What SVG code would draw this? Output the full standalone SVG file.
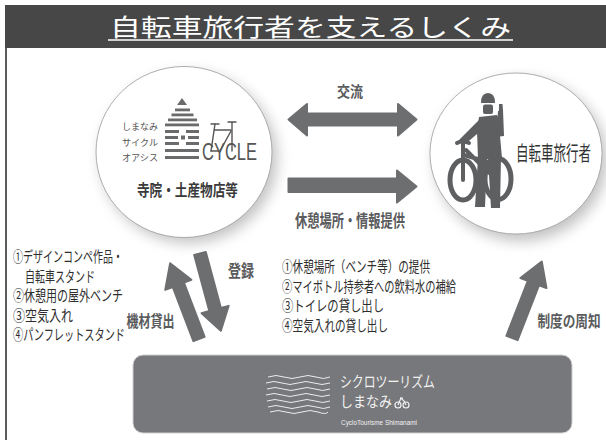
<svg xmlns="http://www.w3.org/2000/svg" width="606" height="440" viewBox="0 0 606 440">
  <style>
    .jp { font-family: "Noto Sans CJK JP", "Noto Sans", sans-serif; }
    .lbl { fill: #5a5b5d; font-weight: bold; }
    .lst { fill: #2e2e2e; font-size: 15px; }
    .arrow { fill: #6d6e70; stroke: #6d6e70; stroke-width: 2; stroke-linejoin: round; }
    .disc { fill: #ffffff; stroke: #9a9a9a; stroke-width: 0.8; }
    .shade { fill: #8f8f8f; opacity: 0.55; filter: url(#soft); }
    .sil { fill: #5e5f61; }
    .wave { fill: none; stroke: #ececec; stroke-width: 1; }
  </style>
  <defs>
    <filter id="soft" x="-30%" y="-30%" width="160%" height="160%">
      <feGaussianBlur stdDeviation="7"/>
    </filter>
  </defs>

  <!-- frame and title bar -->
  <rect x="0" y="0" width="606" height="440" fill="#ffffff"/>
  <line x1="6" y1="47" x2="6" y2="440" stroke="#262626" stroke-width="1.5"/>
  <rect x="5" y="5" width="601" height="43" fill="#474747"/>
  <text class="jp" x="310.5" y="35.5" font-size="24" fill="#ffffff" text-anchor="middle" textLength="401" lengthAdjust="spacingAndGlyphs">自転車旅行者を支えるしくみ</text>
  <line x1="108" y1="40" x2="513" y2="40" stroke="#ffffff" stroke-width="1.5"/>

  <!-- node: temples / shops (cycle oasis) -->
  <g id="oasis">
    <ellipse class="shade" cx="189" cy="158" rx="88" ry="85"/>
    <ellipse class="disc" cx="184" cy="152" rx="88" ry="85.5"/>
    <g class="jp" fill="#555" font-size="9">
      <text x="122" y="130" textLength="36" lengthAdjust="spacingAndGlyphs">しまなみ</text>
      <text x="122" y="145.5" textLength="36" lengthAdjust="spacingAndGlyphs">サイクル</text>
      <text x="122" y="160.5" textLength="36" lengthAdjust="spacingAndGlyphs">オアシス</text>
    </g>
    <!-- striped house mark -->
    <g fill="#6a6b6d">
      <polygon points="182,98 187,105 177,105"/>
      <rect x="175" y="108.5" width="15" height="2.8"/>
      <rect x="171.5" y="113.5" width="22" height="2.8"/>
      <rect x="168" y="118.5" width="29" height="2.8"/>
      <rect x="165" y="123.5" width="34" height="2.8"/>
      <rect x="165" y="130" width="14" height="3"/>
      <rect x="186" y="130" width="13" height="3"/>
      <rect x="165" y="136" width="13" height="3"/>
      <rect x="181" y="135.5" width="4" height="4"/>
      <rect x="188" y="136" width="11" height="3"/>
      <rect x="165" y="142" width="14" height="3"/>
      <rect x="186" y="142" width="13" height="3"/>
      <rect x="165" y="149" width="34" height="3"/>
      <rect x="165" y="156" width="34" height="3"/>
    </g>
    <text x="202" y="160" font-family="Liberation Sans, Arial, sans-serif" font-size="23.5" fill="#555" textLength="55" lengthAdjust="spacingAndGlyphs">CYCLE</text>
    <!-- bicycle frame over the letters -->
    <g fill="none" stroke="#555" stroke-width="1.4" stroke-linecap="round">
      <path d="M211,124 H219"/>
      <path d="M215,124 L211,151"/>
      <path d="M214.5,130 H231"/>
      <path d="M228,122 H236 M232,122 L232,151"/>
      <path d="M231,131 L220,151 L211,151"/>
    </g>
    <text class="jp" x="187.5" y="196" font-size="16" font-weight="bold" fill="#3a3a3a" text-anchor="middle" textLength="101" lengthAdjust="spacingAndGlyphs">寺院・土産物店等</text>
  </g>

  <!-- node: cycle travellers -->
  <g id="traveller">
    <ellipse class="shade" cx="521" cy="160" rx="86" ry="81"/>
    <ellipse class="disc" cx="516" cy="153.5" rx="86" ry="80.5"/>
    <g class="sil">
      <!-- bicycle -->
      <ellipse cx="463" cy="180" rx="13" ry="20" fill="none" stroke="#5e5f61" stroke-width="5"/>
      <ellipse cx="498" cy="179" rx="13" ry="20.5" fill="none" stroke="#5e5f61" stroke-width="5"/>
      <path d="M457,143 Q462,140 469,143" fill="none" stroke="#5e5f61" stroke-width="4" stroke-linecap="round"/>
      <path d="M463,144 L463,180 M464,155 L498,165 M466,150 L488,172 L498,179" fill="none" stroke="#5e5f61" stroke-width="4" stroke-linecap="round"/>
      <!-- rider -->
      <path d="M481,103 Q481,93 488,93 Q495,93 495,103 Z"/>
      <rect x="483" y="104.5" width="10" height="9.5" rx="2"/>
      <path d="M479,117 L497,115 L499,120 L500,136 L502,158 L478,160 L477,130 Z"/>
      <path d="M480,119 L459,140 L463,146 L484,128 Z"/>
      <path d="M496,137 L498,111 L503,110 L504,136 Z"/>
      <path d="M499,111 L499,104 L502.5,104 L503,111 Z"/>
      <path d="M478,158 L487,158 L485,207 L475,207 Z"/>
      <path d="M488,158 L501,157 L500,208 L491,208 Z"/>
    </g>
    <text class="jp" transform="translate(516,160.5) scale(0.625,1)" x="0" y="0" font-size="20" fill="#333">自転車旅行者</text>
  </g>

  <!-- node: Cyclo Tourisme Shimanami -->
  <g id="shimanami">
    <rect x="133" y="355" width="439" height="78" rx="10" fill="#77787b" stroke="#cfcfcf" stroke-width="1"/>
    <g class="wave">
      <path d="M268,377 q8,-3 16,0 t16,0 t16,0 t14,0"/>
      <path d="M266,383 q8,-3 16,0 t16,0 t16,0 t16,0"/>
      <path d="M267,389 q8,-3 16,0 t16,0 t16,0 t15,0"/>
      <path d="M266,395 q8,-3 16,0 t16,0 t16,0 t16,0"/>
      <path d="M267,401 q8,-3 16,0 t16,0 t16,0 t15,0"/>
      <path d="M268,407 q8,-3 16,0 t16,0 t16,0 t14,0"/>
      <path d="M270,412 q8,-3 16,0 t16,0 t16,0 t10,0"/>
    </g>
    <g class="jp" fill="#f2f2f2">
      <text x="340" y="386.5" font-size="15" textLength="95" lengthAdjust="spacingAndGlyphs">シクロツーリズム</text>
      <text x="340" y="407" font-size="15" textLength="52" lengthAdjust="spacingAndGlyphs">しまなみ</text>
      <text x="341" y="425" font-family="Liberation Sans, Arial, sans-serif" font-size="7" textLength="76" lengthAdjust="spacingAndGlyphs">CycloTourisme Shimanami</text>
    </g>
    <!-- small bicycle mark -->
    <g fill="none" stroke="#f2f2f2" stroke-width="1.2">
      <circle cx="398" cy="405" r="3"/>
      <circle cx="406" cy="405" r="3"/>
      <path d="M398,405 L401,398 L404,401 L406,405 M400,398 H403"/>
    </g>
  </g>

  <!-- connectors -->
  <g id="connectors">
    <polygon class="arrow" points="288.5,119.5 307,104 307,113.5 398,113.5 398,104 416.5,119.5 398,135.5 398,125.5 307,125.5 307,135.5"/>
    <polygon class="arrow" points="288.5,178.5 397,178.5 397,170.5 416.5,186.5 397,202.5 397,192 288.5,192"/>
    <!-- 機材貸出 : up-left -->
    <path class="arrow" transform="translate(199,339) rotate(-20.9)" d="M-6,0 L-6,-58 L-14,-58 L0,-81 L14,-58 L6,-58 L6,0 Z"/>
    <!-- 登録 : down-right -->
    <path class="arrow" transform="translate(200,253.5) rotate(164.9)" d="M-6,0 L-6,-58 L-14,-58 L0,-80 L14,-58 L6,-58 L6,0 Z"/>
    <!-- 制度の周知 : up-right -->
    <path class="arrow" transform="translate(512,338) rotate(21.3)" d="M-6,0 L-6,-59 L-14,-59 L0,-82 L14,-59 L6,-59 L6,0 Z"/>

    <g class="jp lbl">
      <text x="350" y="97" font-size="15" text-anchor="middle" textLength="26" lengthAdjust="spacingAndGlyphs">交流</text>
      <text x="350" y="227" font-size="17" text-anchor="middle" textLength="110" lengthAdjust="spacingAndGlyphs">休憩場所・情報提供</text>
      <text transform="translate(150.5,326.5) scale(0.75,1)" x="0" y="0" font-size="16" text-anchor="middle">機材貸出</text>
      <text x="241" y="277" font-size="17" text-anchor="middle" textLength="26" lengthAdjust="spacingAndGlyphs">登録</text>
      <text transform="translate(569,327) scale(0.79,1)" x="0" y="0" font-size="16" text-anchor="middle">制度の周知</text>
    </g>
  </g>

  <!-- lists of what is provided -->
  <g class="jp lst">
    <text x="13" y="262" textLength="110" lengthAdjust="spacingAndGlyphs">①デザインコンペ作品・</text>
    <text x="25" y="281.5" textLength="70" lengthAdjust="spacingAndGlyphs">自転車スタンド</text>
    <text x="13" y="301" textLength="110" lengthAdjust="spacingAndGlyphs">②休憩用の屋外ベンチ</text>
    <text x="13" y="320.5" textLength="60" lengthAdjust="spacingAndGlyphs">③空気入れ</text>
    <text x="13" y="340" textLength="112" lengthAdjust="spacingAndGlyphs">④パンフレットスタンド</text>

    <text x="282" y="272" textLength="148" lengthAdjust="spacingAndGlyphs">①休憩場所（ベンチ等）の提供</text>
    <text x="282" y="291.5" textLength="174" lengthAdjust="spacingAndGlyphs">②マイボトル持参者への飲料水の補給</text>
    <text x="282" y="311" textLength="102" lengthAdjust="spacingAndGlyphs">③トイレの貸し出し</text>
    <text x="282" y="330.5" textLength="106" lengthAdjust="spacingAndGlyphs">④空気入れの貸し出し</text>
  </g>
</svg>
